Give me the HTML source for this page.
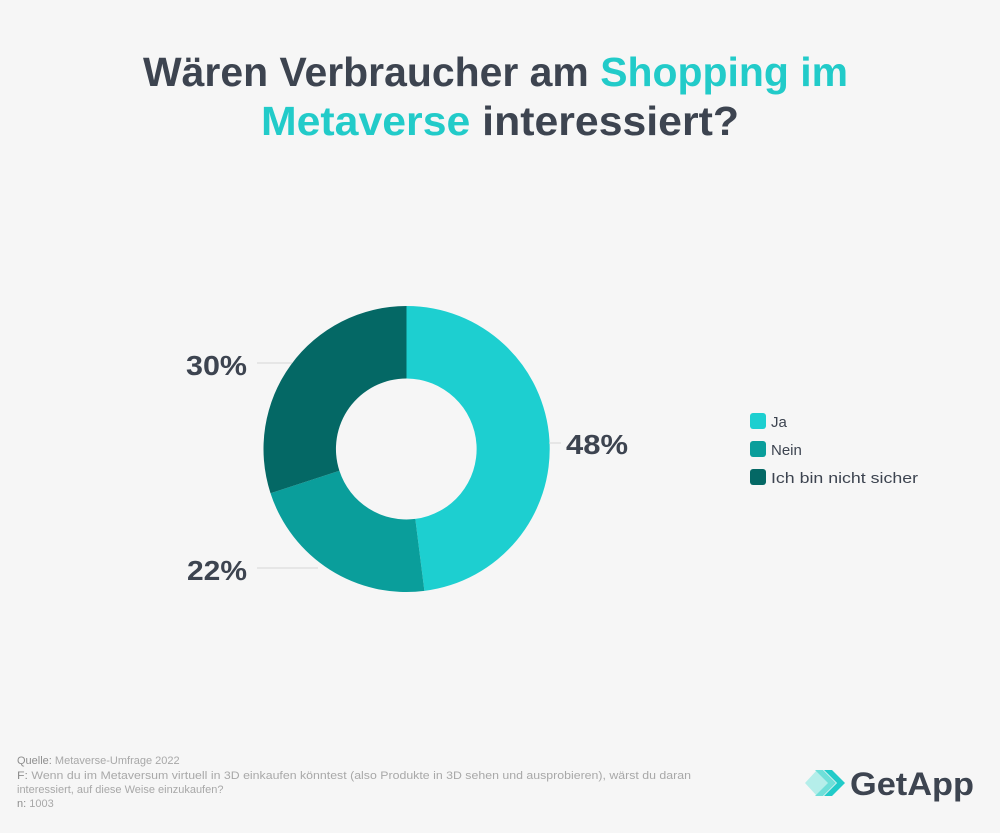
<!DOCTYPE html>
<html><head><meta charset="utf-8"><style>
html,body{margin:0;padding:0;background:#f6f6f6;}
svg{display:block;font-family:"Liberation Sans",sans-serif;}
</style></head><body>
<svg width="1000" height="833" viewBox="0 0 1000 833" xmlns="http://www.w3.org/2000/svg">
<rect width="1000" height="833" fill="#f6f6f6"/>
<text x="143" y="86" font-size="41" font-weight="bold" fill="#3d4450" textLength="705" lengthAdjust="spacingAndGlyphs">Wären Verbraucher am <tspan fill="#22cbc9">Shopping im</tspan></text>
<text x="261" y="135" font-size="41" font-weight="bold" fill="#3d4450" textLength="478" lengthAdjust="spacingAndGlyphs"><tspan fill="#22cbc9">Metaverse</tspan> interessiert?</text>

<path d="M406.5,306 A143,143 0 0 1 424.4,590.9 L415.3,518.9 A70.5,70.5 0 0 0 406.5,378.5 Z" fill="#1dcfd0"/>
<path d="M424.4,590.9 A143,143 0 0 1 270.5,493.2 L339.4,470.8 A70.5,70.5 0 0 0 415.3,518.9 Z" fill="#0a9e9b"/>
<path d="M270.5,493.2 A143,143 0 0 1 406.5,306 L406.5,378.5 A70.5,70.5 0 0 0 339.4,470.8 Z" fill="#046865"/>

<line x1="257" y1="363" x2="292" y2="363" stroke="#d6d6d6" stroke-width="1"/>
<line x1="257" y1="568" x2="318" y2="568" stroke="#d6d6d6" stroke-width="1"/>
<line x1="549" y1="443" x2="561" y2="443" stroke="#d6d6d6" stroke-width="1"/>
<text x="186" y="375" font-size="28" font-weight="bold" fill="#3d4450" textLength="61" lengthAdjust="spacingAndGlyphs">30%</text>
<text x="187" y="580" font-size="28" font-weight="bold" fill="#3d4450" textLength="60" lengthAdjust="spacingAndGlyphs">22%</text>
<text x="566" y="454" font-size="28" font-weight="bold" fill="#3d4450" textLength="62" lengthAdjust="spacingAndGlyphs">48%</text>

<rect x="750" y="413" width="16" height="16" rx="3" fill="#1dcfd0"/>
<rect x="750" y="441" width="16" height="16" rx="3" fill="#0a9e9b"/>
<rect x="750" y="469" width="16" height="16" rx="3" fill="#046865"/>
<text x="771" y="427" font-size="15" fill="#3d4450">Ja</text>
<text x="771" y="455" font-size="15" fill="#3d4450">Nein</text>
<text x="771" y="483" font-size="15" fill="#3d4450" textLength="147" lengthAdjust="spacingAndGlyphs">Ich bin nicht sicher</text>

<g font-size="11" fill="#a8a8a8">
<text x="17" y="764"><tspan fill="#8e8e8e">Quelle:</tspan> Metaverse-Umfrage 2022</text>
<text x="17" y="779" textLength="674" lengthAdjust="spacingAndGlyphs"><tspan fill="#8e8e8e">F:</tspan> Wenn du im Metaversum virtuell in 3D einkaufen könntest (also Produkte in 3D sehen und ausprobieren), wärst du daran</text>
<text x="17" y="793">interessiert, auf diese Weise einzukaufen?</text>
<text x="17" y="807"><tspan fill="#8e8e8e">n:</tspan> 1003</text>
</g>
<g>
<polygon points="805,783 817,770 829,783 817,796" fill="#b5eeea"/>
<polygon points="815,770 823,770 836,783 823,796 815,796 828,783" fill="#6fdfd9"/>
<polygon points="824,770 832,770 845,783 832,796 824,796 837,783" fill="#22cbc9"/>
</g>
<text x="850" y="795" font-size="32" font-weight="bold" fill="#3d4450" textLength="124" lengthAdjust="spacingAndGlyphs">GetApp</text>
</svg>
</body></html>
